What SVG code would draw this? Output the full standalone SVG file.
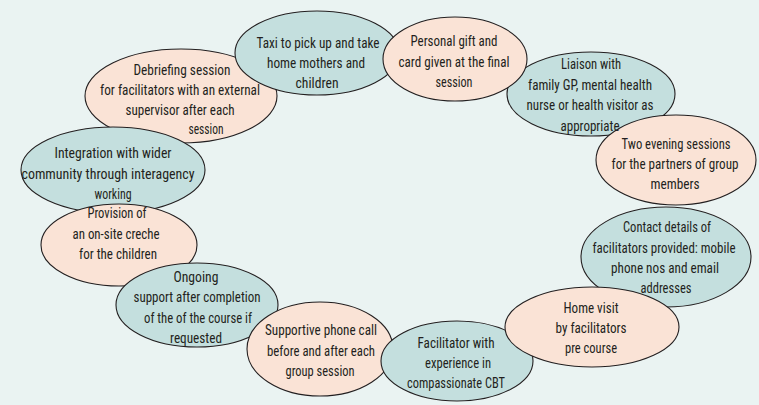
<svg xmlns="http://www.w3.org/2000/svg" width="759" height="405" viewBox="0 0 759 405">
<style>
.bg{fill:#EAF3F2}
.teal{fill:#C4DFDE;stroke:#231F20;stroke-width:1.1}
.peach{fill:#FAE3D6;stroke:#231F20;stroke-width:1.1}
text{font-family:"Liberation Sans Narrow","Roboto Condensed","DejaVu Sans Condensed","Liberation Sans",sans-serif;font-size:15.5px;fill:#231F20;text-anchor:middle}
</style>
<rect class="bg" x="0" y="0" width="759" height="405"/>
<g id="shapes">
<g id="debriefing"><ellipse class="peach" cx="181" cy="96" rx="96" ry="47"/></g>
<g id="integration"><ellipse class="teal" cx="113" cy="170" rx="92" ry="43"/></g>
<g id="provision"><ellipse class="peach" cx="119" cy="245" rx="78" ry="41"/></g>
<g id="ongoing"><ellipse class="teal" cx="197" cy="305" rx="81" ry="42"/></g>
<g id="supportive"><ellipse class="peach" cx="320" cy="349" rx="73" ry="47"/></g>
<g id="facilitator"><ellipse class="teal" cx="457" cy="361" rx="76" ry="40"/></g>
<g id="liaison"><ellipse class="teal" cx="591" cy="94" rx="84" ry="42"/></g>
<g id="two-evening"><ellipse class="peach" cx="676" cy="160" rx="80" ry="45"/></g>
<g id="contact"><ellipse class="teal" cx="666" cy="257" rx="85" ry="50"/></g>
<g id="home-visit"><ellipse class="peach" cx="592" cy="327" rx="87" ry="40"/></g>
<g id="taxi"><ellipse class="teal" cx="317" cy="53" rx="82" ry="42"/></g>
<g id="gift"><ellipse class="peach" cx="455" cy="59" rx="72" ry="42"/></g>
</g>
<g id="labels">
<g id="debriefing-label">
<text x="182" y="75" textLength="97" lengthAdjust="spacingAndGlyphs">Debriefing session</text>
<text x="180" y="95" textLength="160" lengthAdjust="spacingAndGlyphs">for facilitators with an external</text>
<text x="180" y="115" textLength="109" lengthAdjust="spacingAndGlyphs">supervisor after each</text>
<text x="206" y="134" textLength="35" lengthAdjust="spacingAndGlyphs">session</text>
</g>
<g id="taxi-label">
<text x="318" y="48" textLength="123" lengthAdjust="spacingAndGlyphs">Taxi to pick up and take</text>
<text x="316" y="68" textLength="98" lengthAdjust="spacingAndGlyphs">home mothers and</text>
<text x="317" y="88" textLength="43" lengthAdjust="spacingAndGlyphs">children</text>
</g>
<g id="integration-label">
<text x="113" y="158" textLength="117" lengthAdjust="spacingAndGlyphs">Integration with wider</text>
<text x="108" y="179" textLength="173" lengthAdjust="spacingAndGlyphs">community through interagency</text>
<text x="113" y="199" textLength="37" lengthAdjust="spacingAndGlyphs">working</text>
</g>
<g id="gift-label">
<text x="454" y="46" textLength="87" lengthAdjust="spacingAndGlyphs">Personal gift and</text>
<text x="454" y="67" textLength="111" lengthAdjust="spacingAndGlyphs">card given at the final</text>
<text x="454" y="87" textLength="37" lengthAdjust="spacingAndGlyphs">session</text>
</g>
<g id="liaison-label">
<text x="591" y="69" textLength="60" lengthAdjust="spacingAndGlyphs">Liaison with</text>
<text x="590" y="90" textLength="124" lengthAdjust="spacingAndGlyphs">family GP, mental health</text>
<text x="590" y="110" textLength="127" lengthAdjust="spacingAndGlyphs">nurse or health visitor as</text>
<text x="590" y="131" textLength="59" lengthAdjust="spacingAndGlyphs">appropriate</text>
</g>
<g id="two-evening-label">
<text x="676" y="149" textLength="109" lengthAdjust="spacingAndGlyphs">Two evening sessions</text>
<text x="675" y="169" textLength="127" lengthAdjust="spacingAndGlyphs">for the partners of group</text>
<text x="675" y="189" textLength="49" lengthAdjust="spacingAndGlyphs">members</text>
</g>
<g id="provision-label">
<text x="117" y="218" textLength="59" lengthAdjust="spacingAndGlyphs">Provision of</text>
<text x="116" y="239" textLength="87" lengthAdjust="spacingAndGlyphs">an on-site creche</text>
<text x="118" y="259" textLength="78" lengthAdjust="spacingAndGlyphs">for the children</text>
</g>
<g id="ongoing-label">
<text x="196" y="282" textLength="45" lengthAdjust="spacingAndGlyphs">Ongoing</text>
<text x="197" y="302" textLength="127" lengthAdjust="spacingAndGlyphs">support after completion</text>
<text x="198" y="323" textLength="108" lengthAdjust="spacingAndGlyphs">of the of the course if</text>
<text x="196" y="343" textLength="52" lengthAdjust="spacingAndGlyphs">requested</text>
</g>
<g id="supportive-label">
<text x="321" y="335" textLength="112" lengthAdjust="spacingAndGlyphs">Supportive phone call</text>
<text x="321" y="356" textLength="108" lengthAdjust="spacingAndGlyphs">before and after each</text>
<text x="320" y="376" textLength="69" lengthAdjust="spacingAndGlyphs">group session</text>
</g>
<g id="contact-label">
<text x="667" y="232" textLength="88" lengthAdjust="spacingAndGlyphs">Contact details of</text>
<text x="664" y="253" textLength="143" lengthAdjust="spacingAndGlyphs">facilitators provided: mobile</text>
<text x="665" y="273" textLength="108" lengthAdjust="spacingAndGlyphs">phone nos and email</text>
<text x="666" y="293" textLength="51" lengthAdjust="spacingAndGlyphs">addresses</text>
</g>
<g id="home-visit-label">
<text x="591" y="313" textLength="55" lengthAdjust="spacingAndGlyphs">Home visit</text>
<text x="591" y="333" textLength="71" lengthAdjust="spacingAndGlyphs">by facilitators</text>
<text x="591" y="353" textLength="52" lengthAdjust="spacingAndGlyphs">pre course</text>
</g>
<g id="facilitator-label">
<text x="456" y="348" textLength="77" lengthAdjust="spacingAndGlyphs">Facilitator with</text>
<text x="458" y="368" textLength="66" lengthAdjust="spacingAndGlyphs">experience in</text>
<text x="456" y="388" textLength="98" lengthAdjust="spacingAndGlyphs">compassionate CBT</text>
</g>
</g>
</svg>
